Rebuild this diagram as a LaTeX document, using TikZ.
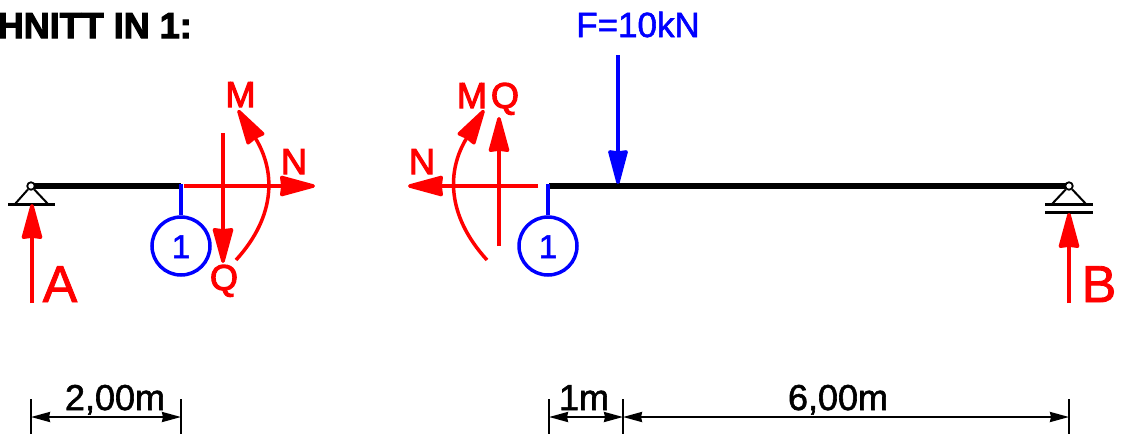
\documentclass[tikz,border=0pt]{standalone}
\usepackage{fontspec}
\setmainfont{Liberation Sans}
\newfontfamily\heavy[FakeBold=1.6]{Liberation Sans}
\newfontfamily\heavier[FakeBold=3]{Liberation Sans}
\usetikzlibrary{arrows.meta, shapes, positioning}

\tikzset{
	beam/.style={line width=6pt,black},
	sup/.style={line width=2pt,black},
	ground/.style={line width=3pt,black},
	hinge/.style={draw=black,line width=1.8pt,fill=white,circle,inner sep=0pt,minimum size=7.5pt},
	force/.style={line width=3.5pt,red,-{Stealth[length=40pt,width=21pt,inset=1pt,round]}},
	load/.style={line width=3.5pt,blue,-{Stealth[length=39pt,width=20pt,inset=1pt,round]}},
	marker/.style={line width=3.5pt,blue},
	cutcircle/.style={draw=blue,line width=3.5pt,circle,inner sep=0pt,minimum size=58pt},
	cutnum/.style={blue,font=\heavy\fontsize{33}{33}\selectfont,anchor=base,inner sep=0pt},
	inner/.style={red,font=\heavier\fontsize{36}{36}\selectfont,anchor=base,inner sep=0pt},
	react/.style={red,font=\heavy\fontsize{52}{52}\selectfont,anchor=base,inner sep=0pt},
	dimtxt/.style={black,font=\heavy\fontsize{36}{36}\selectfont,anchor=base,inner sep=0pt},
	dimline/.style={line width=2.2pt,black,{Stealth[length=19pt,width=10pt,inset=1pt]}-{Stealth[length=19pt,width=10pt,inset=1pt]}},
	dimtick/.style={line width=1.8pt,black}
}

\begin{document}
\begin{tikzpicture}[x=1pt,y=-1pt]
		\useasboundingbox (0,0) rectangle (1122,440);

		\node[black,font=\heavier\bfseries\fontsize{36}{36}\selectfont,anchor=base east,inner sep=0pt] (title) at (192,38) {HNITT IN 1:};

		\coordinate (beamLa) at (32,186);
		\coordinate (beamLb) at (181,186);
		\coordinate (beamRa) at (549,186);
		\coordinate (beamRb) at (1068,186);
		\draw[beam] (beamLa) -- (beamLb);
		\draw[beam] (beamRa) -- (beamRb);

		\foreach \name/\x in {L/181,R/548}{
			\coordinate (top\name) at (\x,184);
			\node[cutcircle] (cut\name) at (\x,246) {};
			\node[cutnum] (num\name) at (\x,258) {1};
			\draw[marker] (top\name) -- (cut\name);
		}

		\node[hinge] (hingeA) at (31,186) {};
		\node[hinge] (hingeB) at (1069,186) {};
		\coordinate (triAa) at (15,204);
		\coordinate (triAb) at (48,204);
		\coordinate (triBa) at (1052,204);
		\coordinate (triBb) at (1086,204);
		\draw[sup] (triAa) -- (hingeA) -- (triAb);
		\draw[sup] (triBa) -- (hingeB) -- (triBb);
		\coordinate (grAa) at (8,204);
		\coordinate (grAb) at (55,204);
		\coordinate (grBa) at (1045,204);
		\coordinate (grBb) at (1093,204);
		\coordinate (grCa) at (1045,212);
		\coordinate (grCb) at (1093,212);
		\draw[ground] (grAa) -- (grAb);
		\draw[ground] (grBa) -- (grBb);
		\draw[ground] (grCa) -- (grCb);

		\coordinate (fAa) at (32,303);
		\coordinate (fAb) at (32,204);
		\coordinate (fBa) at (1069,303);
		\coordinate (fBb) at (1069,213);
		\draw[force] (fAa) -- (fAb);
		\draw[force] (fBa) -- (fBb);
		\node[react] (labA) at (60,302) {A};
		\node[react] (labB) at (1099,302) {B};

		\coordinate (nLa) at (184,186);
		\coordinate (nLb) at (315,186);
		\coordinate (qLa) at (223,133);
		\coordinate (qLb) at (223,263);
		\coordinate (mLa) at (236,260);
		\coordinate (mLb) at (238,110);
		\draw[force] (nLa) -- (nLb);
		\draw[force] (qLa) -- (qLb);
		\draw[force] (mLa) .. controls (277,215) and (275,170) .. (mLb);
		\node[inner] (labML) at (240.5,107) {M};
		\node[inner] (labNL) at (294,174) {N};
		\node[inner] (labQL) at (224,290) {Q};

		\coordinate (nRa) at (538,186);
		\coordinate (nRb) at (408,186);
		\coordinate (qRa) at (499,246);
		\coordinate (qRb) at (499,117);
		\coordinate (mRa) at (487,260);
		\coordinate (mRb) at (484,110);
		\draw[force] (nRa) -- (nRb);
		\draw[force] (qRa) -- (qRb);
		\draw[force] (mRa) .. controls (446,215) and (447,170) .. (mRb);
		\node[inner] (labMR) at (472,108) {M};
		\node[inner] (labQR) at (505,108) {Q};
		\node[inner] (labNR) at (422,174) {N};

		\coordinate (fFa) at (618,55);
		\coordinate (fFb) at (618,184);
		\draw[load] (fFa) -- (fFb);
		\node[blue,font=\heavy\fontsize{35}{35}\selectfont,anchor=base,inner sep=0pt] (labF) at (638,37) {F=10kN};

		\foreach \name/\x in {a/31,b/181,c/549,d/623,e/1069}{
			\coordinate (dim\name t) at (\x,399);
			\coordinate (dim\name m) at (\x,417);
			\coordinate (dim\name u) at (\x,434);
			\draw[dimtick] (dim\name t) -- (dim\name u);
		}
		\draw[dimline] (dimam) -- (dimbm);
		\draw[dimline] (dimcm) -- (dimdm);
		\draw[dimline] (dimdm) -- (dimem);
		\node[dimtxt] (dimA) at (115,410) {2,00m};
		\node[dimtxt] (dimB) at (584,410) {1m};
		\node[dimtxt] (dimC) at (838,410) {6,00m};
	\end{tikzpicture}
\end{document}
